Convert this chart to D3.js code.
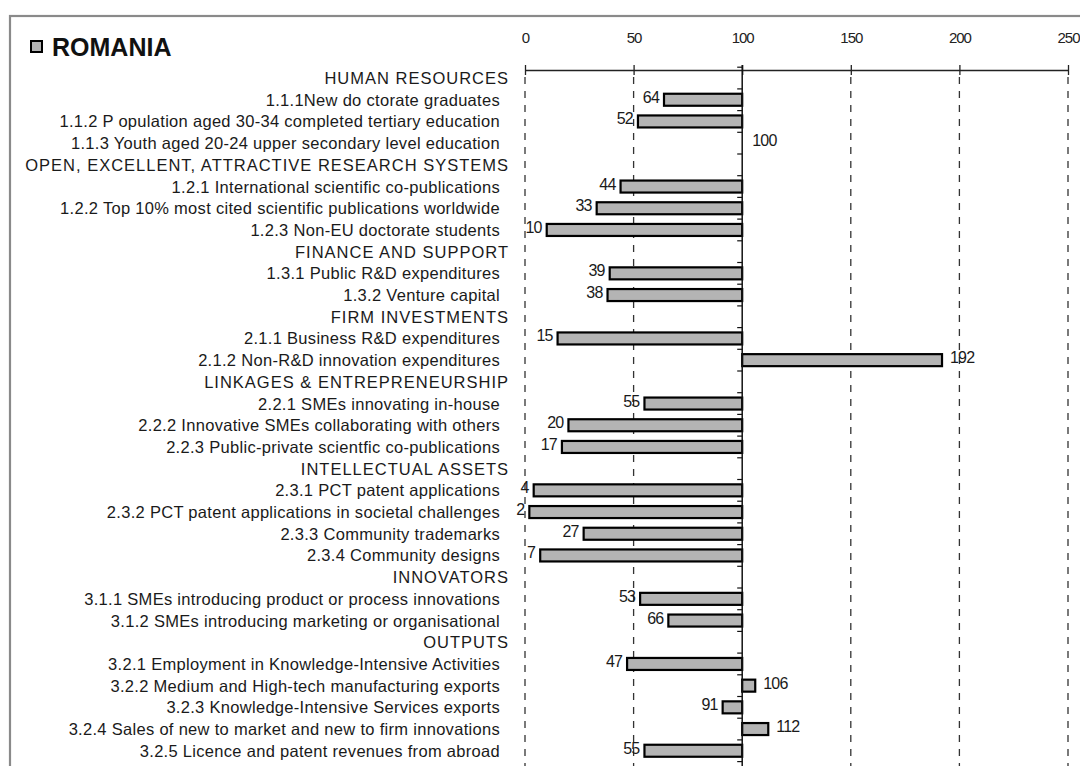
<!DOCTYPE html>
<html>
<head>
<meta charset="utf-8">
<script src="https://cdn.jsdelivr.net/npm/d3@7"></script>
<style>
  html, body { margin: 0; padding: 0; background: #fff; }
  svg { display: block; font-family: "Liberation Sans", Arial, sans-serif; }
</style>
</head>
<body>
<svg id="chart" width="1080" height="766"></svg>
<script>
// ---- data ----
const title = "ROMANIA";
const categories = [
  "HUMAN RESOURCES",
  "1.1.1New do ctorate graduates",
  "1.1.2 P opulation aged 30-34 completed tertiary education",
  "1.1.3 Youth aged 20-24 upper secondary level education",
  "OPEN, EXCELLENT, ATTRACTIVE RESEARCH SYSTEMS",
  "1.2.1 International scientific co-publications",
  "1.2.2 Top 10% most cited scientific publications worldwide",
  "1.2.3 Non-EU doctorate students",
  "FINANCE AND SUPPORT",
  "1.3.1 Public R&D expenditures",
  "1.3.2 Venture capital",
  "FIRM INVESTMENTS",
  "2.1.1 Business R&D expenditures",
  "2.1.2 Non-R&D innovation expenditures",
  "LINKAGES & ENTREPRENEURSHIP",
  "2.2.1 SMEs innovating in-house",
  "2.2.2 Innovative SMEs collaborating with others",
  "2.2.3 Public-private scientfic co-publications",
  "INTELLECTUAL ASSETS",
  "2.3.1 PCT patent applications",
  "2.3.2 PCT patent applications in societal challenges",
  "2.3.3 Community trademarks",
  "2.3.4 Community designs",
  "INNOVATORS",
  "3.1.1 SMEs introducing product or process innovations",
  "3.1.2 SMEs introducing marketing or organisational",
  "OUTPUTS",
  "3.2.1 Employment in Knowledge-Intensive Activities",
  "3.2.2 Medium and High-tech manufacturing exports",
  "3.2.3 Knowledge-Intensive Services exports",
  "3.2.4 Sales of new to market and new to firm innovations",
  "3.2.5 Licence and patent revenues from abroad"
];
const isHeader = [
  true, false, false, false,
  true, false, false, false,
  true, false, false,
  true, false, false,
  true, false, false, false,
  true, false, false, false, false,
  true, false, false,
  true, false, false, false, false, false
];
const values = [
  null, 64, 52, 100,
  null, 44, 33, 10,
  null, 39, 38,
  null, 15, 192,
  null, 55, 20, 17,
  null, 4, 2, 27, 7,
  null, 53, 66,
  null, 47, 106, 91, 112, 55
];
const tickValues = [0, 50, 100, 150, 200, 250];
const baseline = 100;

// ---- chart ----
const svg = d3.select("#chart");
const W = 1080, H = 766;

// frame
svg.append("rect")
  .attr("x", 10).attr("y", 16)
  .attr("width", W + 20).attr("height", H + 20)
  .attr("fill", "#fff")
  .attr("stroke", "#8a8a8a").attr("stroke-width", 2.2);

const x = d3.scaleLinear().domain([0, 250]).range([525, 1068]);
const y = d3.scaleBand().domain(d3.range(categories.length)).range([67.2, 761.6]).paddingInner(0).paddingOuter(0);
const barH = 12;

// title with legend square
const tg = svg.append("g");
tg.append("rect")
  .attr("x", 31).attr("y", 41).attr("width", 11).attr("height", 11)
  .attr("fill", "#b4b4b4").attr("stroke", "#000").attr("stroke-width", 2);
tg.append("text")
  .attr("x", 52).attr("y", 55.5)
  .attr("font-size", 25).attr("font-weight", "bold")
  .attr("fill", "#111")
  .text(title);

// gridlines (dashed)
svg.append("g").selectAll("line")
  .data(tickValues.filter(v => v !== baseline))
  .join("line")
  .attr("x1", d => x(d)).attr("x2", d => x(d))
  .attr("y1", 77).attr("y2", H + 10)
  .attr("stroke", "#333").attr("stroke-width", 1.3)
  .attr("stroke-dasharray", "7,7");

// top axis
const axisY = 70;
const gx = svg.append("g")
  .attr("transform", `translate(0,${axisY})`)
  .call(d3.axisTop(x).tickValues(tickValues).tickSizeInner(5).tickSizeOuter(0).tickPadding(22));
gx.select(".domain").attr("stroke", "#222").attr("stroke-width", 1.3);
gx.selectAll(".tick line").attr("stroke", "#222").attr("stroke-width", 1.3);
gx.selectAll(".tick").append("line").attr("y1", 0).attr("y2", 5).attr("stroke", "#222").attr("stroke-width", 1.3);
gx.selectAll(".tick text")
  .attr("font-family", "Liberation Sans, Arial, sans-serif")
  .attr("font-size", 15).attr("fill", "#222")
  .attr("letter-spacing", "-1");

// bars
const rows = categories.map((c, i) => ({ c, i, v: values[i], h: isHeader[i] }));
svg.append("g").selectAll("rect")
  .data(rows.filter(d => d.v !== null && d.v !== baseline))
  .join("rect")
  .attr("x", d => x(Math.min(d.v, baseline)))
  .attr("width", d => Math.abs(x(d.v) - x(baseline)))
  .attr("y", d => y(d.i) + y.bandwidth() / 2 - barH / 2)
  .attr("height", barH)
  .attr("fill", "#b4b4b4")
  .attr("stroke", "#000").attr("stroke-width", 2.2);

// category axis at baseline (ticks between categories)
const bx = x(baseline);
const ag = svg.append("g");
ag.append("line")
  .attr("x1", bx).attr("x2", bx)
  .attr("y1", axisY - 5).attr("y2", H + 10)
  .attr("stroke", "#111").attr("stroke-width", 1.5);
ag.selectAll("line.t")
  .data(d3.range(categories.length + 1))
  .join("line").attr("class", "t")
  .attr("x1", bx - 5).attr("x2", bx)
  .attr("y1", d => (d < categories.length ? y(d) : y.range()[1]))
  .attr("y2", d => (d < categories.length ? y(d) : y.range()[1]))
  .attr("stroke", "#111").attr("stroke-width", 1.2);

// category labels
svg.append("g").selectAll("text")
  .data(rows)
  .join("text")
  .attr("x", d => d.h ? 509 : 500)
  .attr("y", d => y(d.i) + y.bandwidth() / 2 + 6)
  .attr("text-anchor", "end")
  .attr("font-size", 16.5)
  .attr("letter-spacing", d => d.h ? "1.0" : "0.3")
  .attr("fill", "#1a1a1a")
  .text(d => d.c);

// value labels
svg.append("g").selectAll("text")
  .data(rows.filter(d => d.v !== null))
  .join("text")
  .attr("x", d => d.v < baseline ? x(d.v) - 5 : x(d.v) + (d.v === baseline ? 10 : 8))
  .attr("y", d => y(d.i) + y.bandwidth() / 2 + 3)
  .attr("text-anchor", d => d.v < baseline ? "end" : "start")
  .attr("font-size", 16)
  .attr("letter-spacing", "-0.8")
  .attr("fill", "#1a1a1a")
  .text(d => d.v);
</script>
</body>
</html>
